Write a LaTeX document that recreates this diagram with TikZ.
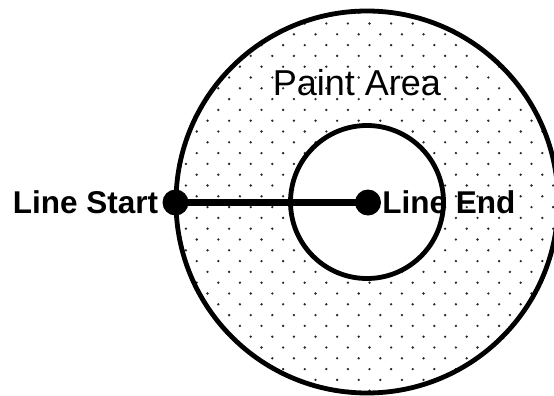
\documentclass[tikz,border=0pt]{standalone}
\usepackage{fontspec}
\setmainfont{Liberation Sans}
\usepackage{tikz}
\usetikzlibrary{positioning, calc}
\definecolor{speck}{RGB}{40,40,40}

\tikzset{
  endpoint/.style={circle, fill=black, inner sep=0pt, minimum size=26pt},
  pointlabel/.style={font=\fontsize{31.5}{35}\selectfont\bfseries, inner sep=0pt},
  ring/.style={line width=4.8pt}
}

\begin{document}
\begin{tikzpicture}[x=1pt, y=-1pt]
  \useasboundingbox (0,0) rectangle (554,396);
  \coordinate (c) at (367,202);
  % dotted paint area
  \begin{scope}
    \clip (c) circle[radius=191];
    \foreach \j in {-28,...,9}{
      \pgfmathsetmacro{\shift}{218.3+10.8*mod(\j,2)}
      \foreach \i in {-3,...,17}{
        \fill[speck] (\shift+21.6*\i, 304.3+10.8*\j) circle[radius=1.3];
      }
    }
  \end{scope}
  \fill[white] (c) circle[radius=76.5];
  \draw[ring] (c) circle[radius=191];
  \draw[ring] (c) circle[radius=76.5];
  \node[font=\fontsize{36}{40}\selectfont] (area) at (357,83) {Paint Area};
  % line and its end points
  \node[endpoint] (start) at (175.5,202.5) {};
  \node[endpoint] (end) at (368,202.5) {};
  \draw[line width=6.5pt] (start.center) -- (end.center);
  \node[pointlabel, left=4pt of start] (startlbl) {Line Start};
  \node[pointlabel, right=1pt of end] (endlbl) {Line End};
\end{tikzpicture}
\end{document}
